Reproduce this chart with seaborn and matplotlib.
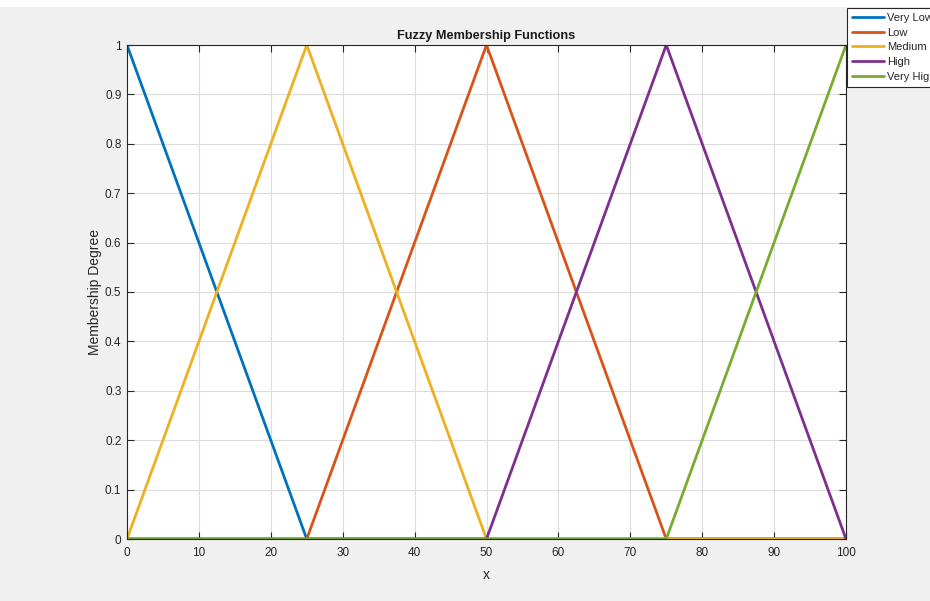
import matplotlib
matplotlib.use("Agg")
import matplotlib.pyplot as plt
import seaborn as sns
import pandas as pd
from matplotlib.patches import Rectangle

# Triangular membership functions sampled at their break points
x_points = [0, 25, 50, 75, 100]
very_low = [1, 0, 0, 0, 0]
low = [0, 0, 1, 0, 0]
medium = [0, 1, 0, 0, 0]
high = [0, 0, 0, 1, 0]
very_high = [0, 0, 0, 0, 1]

labels = ["Very Low", "Low", "Medium", "High", "Very High"]
colors = ["#0072BD", "#D95319", "#EDB120", "#7E2F8E", "#77AC30"]
x_ticks = list(range(0, 101, 10))
y_ticks = [0, 0.1, 0.2, 0.3, 0.4, 0.5, 0.6, 0.7, 0.8, 0.9, 1]
y_tick_labels = ["0", "0.1", "0.2", "0.3", "0.4", "0.5", "0.6", "0.7", "0.8", "0.9", "1"]

frames = []
for name, vals in zip(labels, [very_low, low, medium, high, very_high]):
    frames.append(pd.DataFrame({"x": x_points, "mu": vals, "set": name}))
df = pd.concat(frames, ignore_index=True)

sns.set_theme(style="white")
plt.rcParams["font.family"] = ["Liberation Sans", "DejaVu Sans"]

fig = plt.figure(figsize=(9.30, 6.01), dpi=100, facecolor="#f0f0f0")
fig.patches.append(Rectangle((0, 1 - 7 / 601), 1, 7 / 601, transform=fig.transFigure,
                             facecolor="white", edgecolor="none", zorder=-1))
ax = fig.add_axes([127 / 930, 1 - 539 / 601, (846 - 127) / 930, (539 - 45) / 601])
ax.set_facecolor("white")

sns.lineplot(data=df, x="x", y="mu", hue="set", hue_order=labels, palette=colors,
             estimator=None, sort=False, linewidth=2, ax=ax, legend=False)

ax.set_xlim(0, 100)
ax.set_ylim(0, 1)
ax.set_xticks(x_ticks)
ax.set_yticks(y_ticks)
ax.set_yticklabels(y_tick_labels)
ax.grid(True, color="#dcdcdc", linewidth=0.8)
ax.set_axisbelow(True)

for s in ax.spines.values():
    s.set_visible(True)
    s.set_color("#262626")
    s.set_linewidth(0.8)
ax.tick_params(axis="both", direction="in", length=5, width=0.8, colors="#262626",
               labelsize=8.5, labelcolor="#262626", top=True, right=True,
               bottom=True, left=True, pad=4)
ax.tick_params(axis="x", pad=6)

ax.set_title("Fuzzy Membership Functions", fontsize=9.2, fontweight="bold",
             color="#1a1a1a", pad=4)
ax.set_xlabel("x", fontsize=10, color="#262626", labelpad=6)
ax.set_ylabel("Membership Degree", fontsize=10, color="#262626", labelpad=2)

handles = [plt.Line2D([0], [0], color=c, linewidth=2) for c in colors]
leg = fig.legend(handles, labels, loc="upper left",
                 bbox_to_anchor=(847 / 930, 1 - 8 / 601), frameon=True,
                 fancybox=False, fontsize=8, handlelength=2.9, handletextpad=0.25,
                 labelspacing=0.42, borderpad=0.45, borderaxespad=0)
leg.get_frame().set_edgecolor("#262626")
leg.get_frame().set_linewidth(0.8)
leg.get_frame().set_facecolor("white")
leg.get_frame().set_alpha(1)

fig.savefig("out.png", dpi=100, facecolor=fig.get_facecolor())
